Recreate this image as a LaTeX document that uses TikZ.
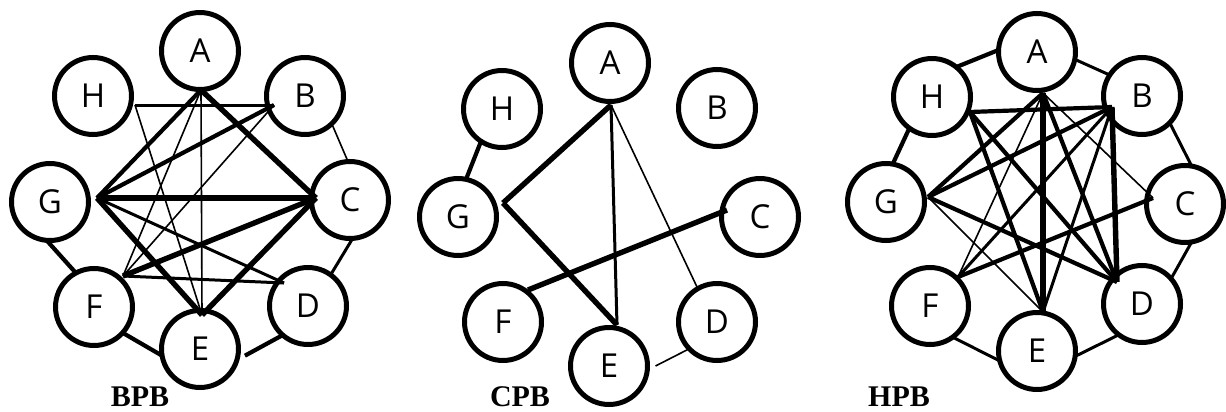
\documentclass[tikz,border=0pt]{standalone}
\usepackage{fontspec}
\setmainfont{Liberation Serif}
\newfontfamily\nodefont{Open Sans}
\begin{document}
\begin{tikzpicture}[x=1pt,y=-1pt,
  vx/.style={circle, draw, line width=5pt, minimum size=77pt, inner sep=0pt, outer sep=0pt, fill=white,
     font=\nodefont\fontsize{33}{33}\selectfont},
  e1/.style={line width=1.6pt},
  e2/.style={line width=3pt},
  e3/.style={line width=4.2pt},
  e4/.style={line width=5.4pt},
  ttl/.style={font=\bfseries\fontsize{30}{30}\selectfont, inner sep=0pt}]
\useasboundingbox (0,0) rectangle (1226,412);

% ---------------- BPB ----------------
\node[vx] (bA) at (200,51) {A};
\node[vx] (bH) at (93,96) {H};
\node[vx] (bB) at (305,96) {B};
\node[vx] (bG) at (50,202) {G};
\node[vx] (bC) at (350,200) {C};
\node[vx] (bF) at (94,307) {F};
\node[vx] (bE) at (200,349) {E};
\node[vx] (bD) at (308,306) {D};
\coordinate (bAi) at (201,90);
\coordinate (bHi) at (135,105);
\coordinate (bBi) at (274,105);
\coordinate (bGi) at (97,198);
\coordinate (bCi) at (316,198);
\coordinate (bFi) at (123,276);
\coordinate (bDi) at (284,283);
\coordinate (bEi) at (202,315);
\draw[e2] (bHi) -- (bBi);
\draw[e1] (bHi) -- (bEi);
\draw[e4] (bAi) -- (bCi);
\draw[e1] (bAi) -- (bEi);
\draw[e3] (bAi) -- (bGi);
\draw[e1] (bAi) -- (bFi);
\draw[e3] (bBi) -- (bGi);
\draw[e1] (bBi) -- (bFi);
\draw[e4] (bGi) -- (bCi);
\draw[e4] (bGi) -- (bEi);
\draw[e2] (bGi) -- (bDi);
\draw[e4] (bFi) -- (bCi);
\draw[e2] (bFi) -- (bDi);
\draw[e4] (bCi) -- (bEi);
\draw[e1] (bB.-46) -- (bC.93);
\draw[e2] (bC.-86) -- (bD.54);
\draw[e3] (bG.-95) -- (bF.118);
\draw[e3] (bF.-42) -- (bE.190);
\draw[e3] ([xshift=7pt]bE.-10) -- (bD.-131);
\node[ttl] (tB) at (140,397) {BPB};

% ---------------- CPB ----------------
\node[vx] (cA) at (610,63) {A};
\node[vx] (cH) at (502,109) {H};
\node[vx] (cB) at (717,108) {B};
\node[vx] (cG) at (458,217) {G};
\node[vx] (cC) at (760,217) {C};
\node[vx] (cF) at (503,322) {F};
\node[vx] (cE) at (609,366) {E};
\node[vx] (cD) at (717,322) {D};
\coordinate (cAi) at (611,105);
\coordinate (cGi) at (503,203);
\coordinate (cEi) at (617,325);
\coordinate (cDi) at (697,287);
\coordinate (cFi) at (528,290);
\coordinate (cCi) at (727,210);
\draw[e4] (cAi) -- (cGi);
\draw[e4] (cGi) -- (cEi);
\draw[e2] (cAi) -- (cEi);
\draw[e1] (cAi) -- (cDi);
\draw[e4] (cFi) -- (cCi);
\draw[e3] (cH.-123) -- (cG.78);
\draw[e1] ([xshift=8pt]cE.0) -- (cD.-136);
\node[ttl] (tC) at (520,397) {CPB};

% ---------------- HPB ----------------
\node[vx] (hA) at (1037,52) {A};
\node[vx] (hH) at (932,97) {H};
\node[vx] (hB) at (1142,96) {B};
\node[vx] (hG) at (886,202) {G};
\node[vx] (hC) at (1185,204) {C};
\node[vx] (hF) at (930,306) {F};
\node[vx] (hE) at (1037,351) {E};
\node[vx] (hD) at (1142,304) {D};
\coordinate (hAi) at (1043,93);
\coordinate (hHi) at (970,112);
\coordinate (hBi) at (1112,107);
\coordinate (hGi) at (928,197);
\coordinate (hFi) at (958,277);
\coordinate (hEi) at (1043,312);
\coordinate (hDi) at (1117,282);
\coordinate (hCi) at (1153,198);
\draw[e3] (hHi) -- (hBi);
\draw[e4] (hBi) -- (hDi);
\draw[e3] (hHi) -- (hEi);
\draw[e3] (hHi) -- (hDi);
\draw[e3] (hAi) -- (hGi);
\draw[e4] (hAi) -- (hEi);
\draw[e3] (hAi) -- (hDi);
\draw[e1] (hAi) -- (hFi);
\draw[e1] (hAi) -- (hCi);
\draw[e3] (hBi) -- (hGi);
\draw[e2] (hBi) -- (hFi);
\draw[e2] (hBi) -- (hEi);
\draw[e3] (hGi) -- (hDi);
\draw[e1] (hGi) -- (hEi);
\draw[e3] (hFi) -- (hCi);
\draw[e3] (hH.51) -- (hA.177);
\draw[e2] (hA.-11) -- (hB.147);
\draw[e3] (hH.-126) -- (hG.80);
\draw[e2] (hB.-44) -- (hC.80);
\draw[e2] (hC.-80) -- (hD.41);
\draw[e2] (hF.-54) -- (hE.195);
\draw[e2] (hE.-8) -- (hD.-127);
\node[ttl] (tH) at (899,397) {HPB};
\end{tikzpicture}
\end{document}
